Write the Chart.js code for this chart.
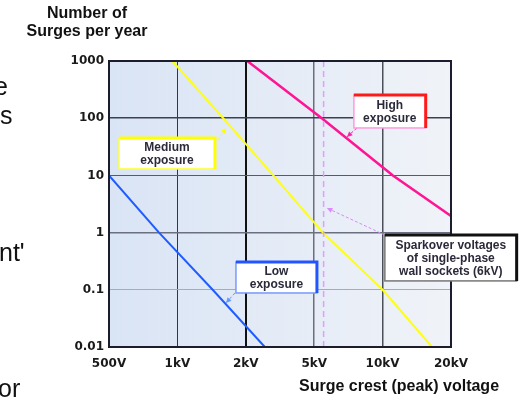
<!DOCTYPE html>
<html>
<head>
<meta charset="utf-8">
<script src="https://cdn.jsdelivr.net/npm/chart.js@4"></script>
<style>
    html, body { margin: 0; padding: 0; background: #fff; overflow: hidden; }
    #surgeChart { display: block; }
</style>
</head>
<body>
<canvas id="surgeChart" width="524" height="397"></canvas>
<script>

// axis ticks (x axis is evenly spaced per tick, not a true log axis)
const xTickLabels = ['500V', '1kV', '2kV', '5kV', '10kV', '20kV'];
const xTickKV = [0.5, 1, 2, 5, 10, 20];
const yTickValues = [0.01, 0.1, 1, 10, 100, 1000];
const yTickLabels = ['0.01', '0.1', '1', '10', '100', '1000'];

// series, voltage in kV / surges per year
const lowKV = [0.5, 0.83, 1.43, 2.58];
const lowSurges = [10, 1, 0.1, 0.01];
const mediumKV = [0.95, 1.59, 2.89, 5.46, 10, 16.5];
const mediumSurges = [1000, 100, 10, 1, 0.1, 0.01];
const highKV = [2.04, 5.4, 11.1, 20];
const highSurges = [1000, 100, 10, 1.95];
const sparkoverKV = 5.5;

// callouts, in axis units (x = tick position, y = surges per year)
const callouts = [
    { lines: ['Medium', 'exposure'], x0: 0.146, x1: 1.549, yTop: 45, yBot: 13,
      thin: '#ffff44', thick: '#ffff00', from: [1.593, 41.6], to: [1.71, 67.5] },
    { lines: ['High', 'exposure'], x0: 3.58, x1: 4.63, yTop: 255, yBot: 67.5,
      thin: '#ff99dd', thick: '#ff1a1a', from: [3.624, 67.5], to: [3.478, 46.9], arrow: '#ff22aa' },
    { lines: ['Low', 'exposure'], x0: 1.856, x1: 3.04, yTop: 0.306, yBot: 0.088,
      thin: '#7799ff', thick: '#2255ff', from: [1.841, 0.088], to: [1.71, 0.0587], arrow: '#6699ff' },
    { lines: ['Sparkover voltages', 'of single-phase', 'wall sockets (6kV)'], x0: 4.033, x1: 5.96, yTop: 0.908, yBot: 0.143,
      thin: '#777777', thick: '#111111', from: [4.033, 0.908], to: [3.186, 2.69], arrow: '#dd88ff' }
];

// bits of the slide text cut off at the left edge
const sideText = [['e', -6, 95], ['s', 0, 124], ["nt'", -1, 261], ['or', -2, 397]];

const xGridColors = ['rgba(0,0,0,0)', '#2a3560', '#111111', '#6e6e78', '#4a4f5a', 'rgba(0,0,0,0)'];
const xGridWidths = [0, 1, 2, 1.5, 1.5, 0];
const yGridColors = ['rgba(0,0,0,0)', '#ff77dd', '#6a7080', '#8b3a8b', '#3a4050', 'rgba(0,0,0,0)'];
const yGridWidths = [0, 1, 1.5, 1, 1.5, 0];

function toPos(kv) {
    for (let i = 0; i < xTickKV.length - 1; i++) {
        const a = xTickKV[i], b = xTickKV[i + 1];
        if (kv <= b || i === xTickKV.length - 2) {
            return i + Math.log(kv / a) / Math.log(b / a);
        }
    }
}

function pts(kvs, vals) {
    return kvs.map((kv, i) => ({ x: toPos(kv), y: vals[i] }));
}

const tickFont = { family: '"DejaVu Sans"', size: 12, weight: 'bold' };

const surgePlugin = {
    id: 'surgePlugin',
    beforeDatasetsDraw(chart) {},
    beforeDraw(chart) {
        const { ctx, chartArea: a } = chart;
        const g = ctx.createLinearGradient(a.left, 0, a.right, 0);
        g.addColorStop(0, '#d9e4f5');
        g.addColorStop(1, '#f0f3f8');
        ctx.save();
        ctx.fillStyle = g;
        ctx.fillRect(a.left, a.top, a.right - a.left, a.bottom - a.top);
        ctx.restore();
    },
    afterDraw(chart) {
        const { ctx, chartArea: a } = chart;
        const xs = chart.scales.x, ys = chart.scales.y;
        ctx.save();

        // plot frame
        ctx.strokeStyle = '#1c1c2c';
        ctx.lineWidth = 2;
        ctx.strokeRect(a.left, a.top, a.right - a.left, a.bottom - a.top);

        // callouts
        callouts.forEach(c => {
            const l = xs.getPixelForValue(c.x0), r = xs.getPixelForValue(c.x1);
            const t = ys.getPixelForValue(c.yTop), b = ys.getPixelForValue(c.yBot);
            const fx = xs.getPixelForValue(c.from[0]), fy = ys.getPixelForValue(c.from[1]);
            const tx = xs.getPixelForValue(c.to[0]), ty = ys.getPixelForValue(c.to[1]);
            const ac = c.arrow || c.thick;

            ctx.strokeStyle = ac;
            ctx.lineWidth = 1;
            ctx.setLineDash([3, 2]);
            ctx.beginPath();
            ctx.moveTo(fx, fy);
            ctx.lineTo(tx, ty);
            ctx.stroke();
            ctx.setLineDash([]);
            const ang = Math.atan2(ty - fy, tx - fx);
            ctx.fillStyle = ac;
            ctx.beginPath();
            ctx.moveTo(tx, ty);
            ctx.lineTo(tx - 6 * Math.cos(ang - 0.45), ty - 6 * Math.sin(ang - 0.45));
            ctx.lineTo(tx - 6 * Math.cos(ang + 0.45), ty - 6 * Math.sin(ang + 0.45));
            ctx.closePath();
            ctx.fill();

            ctx.fillStyle = '#ffffff';
            ctx.fillRect(l, t, r - l, b - t);
            ctx.strokeStyle = c.thin;
            ctx.lineWidth = 1.5;
            ctx.strokeRect(l, t, r - l, b - t);
            ctx.strokeStyle = c.thick;
            ctx.lineWidth = 3;
            ctx.beginPath();
            ctx.moveTo(l, t);
            ctx.lineTo(r, t);
            ctx.lineTo(r, b);
            ctx.stroke();

            ctx.fillStyle = '#2a2a3a';
            ctx.font = 'bold 12px "Liberation Sans"';
            ctx.textAlign = 'center';
            ctx.textBaseline = 'middle';
            const cy = (t + b) / 2, lh = 13;
            c.lines.forEach((s, i) => {
                ctx.fillText(s, (l + r) / 2, cy + (i - (c.lines.length - 1) / 2) * lh + 1);
            });
        });

        // titles
        ctx.fillStyle = '#111111';
        ctx.font = 'bold 16px "Liberation Sans"';
        ctx.textAlign = 'center';
        ctx.textBaseline = 'middle';
        ctx.fillText('Number of', 87, 14);
        ctx.fillText('Surges per year', 87, 32);
        ctx.fillText('Surge crest (peak) voltage', 399, 387);

        ctx.font = '25px "Liberation Sans"';
        ctx.textAlign = 'left';
        ctx.textBaseline = 'alphabetic';
        sideText.forEach(([s, x, y]) => ctx.fillText(s, x, y));
        ctx.restore();
    }
};

const ctx = document.getElementById('surgeChart').getContext('2d');
const surgeChart = new Chart(ctx, {
    type: 'line',
    data: {
        datasets: [
            {
                label: 'Sparkover',
                data: [{ x: toPos(sparkoverKV), y: 0.01 }, { x: toPos(sparkoverKV), y: 1000 }],
                borderColor: '#e59cff',
                borderWidth: 1.5,
                borderDash: [6, 4]
            },
            {
                label: 'Low exposure',
                data: pts(lowKV, lowSurges),
                borderColor: '#1f5cff',
                borderWidth: 2
            },
            {
                label: 'Medium exposure',
                data: pts(mediumKV, mediumSurges),
                borderColor: '#ffff14',
                borderWidth: 2
            },
            {
                label: 'High exposure',
                data: pts(highKV, highSurges),
                borderColor: '#ff1493',
                borderWidth: 2.5
            }
        ]
    },
    options: {
        responsive: false,
        animation: false,
        devicePixelRatio: 1,
        layout: { padding: { left: 0, top: 61, right: 73, bottom: 0 } },
        elements: { point: { radius: 0 }, line: { tension: 0 } },
        plugins: { legend: { display: false }, tooltip: { enabled: false } },
        scales: {
            x: {
                type: 'linear',
                min: 0,
                max: xTickLabels.length - 1,
                afterBuildTicks: s => { s.ticks = xTickLabels.map((_, i) => ({ value: i })); },
                afterFit: s => { s.height = 50; },
                ticks: {
                    callback: (v, i) => xTickLabels[i],
                    font: tickFont,
                    color: '#1a1a1a',
                    padding: 10,
                    autoSkip: false,
                    maxRotation: 0
                },
                grid: {
                    drawTicks: false,
                    color: c => xGridColors[c.index],
                    lineWidth: c => xGridWidths[c.index]
                },
                border: { display: false }
            },
            y: {
                type: 'logarithmic',
                min: yTickValues[0],
                max: yTickValues[yTickValues.length - 1],
                afterBuildTicks: s => { s.ticks = yTickValues.map(v => ({ value: v })); },
                afterFit: s => { s.width = 109; },
                ticks: {
                    callback: (v, i) => yTickLabels[i],
                    font: tickFont,
                    color: '#1a1a1a',
                    padding: 5,
                    autoSkip: false
                },
                grid: {
                    drawTicks: false,
                    color: c => yGridColors[c.index],
                    lineWidth: c => yGridWidths[c.index]
                },
                border: { display: false }
            }
        }
    },
    plugins: [surgePlugin]
});
</script>
</body>
</html>
